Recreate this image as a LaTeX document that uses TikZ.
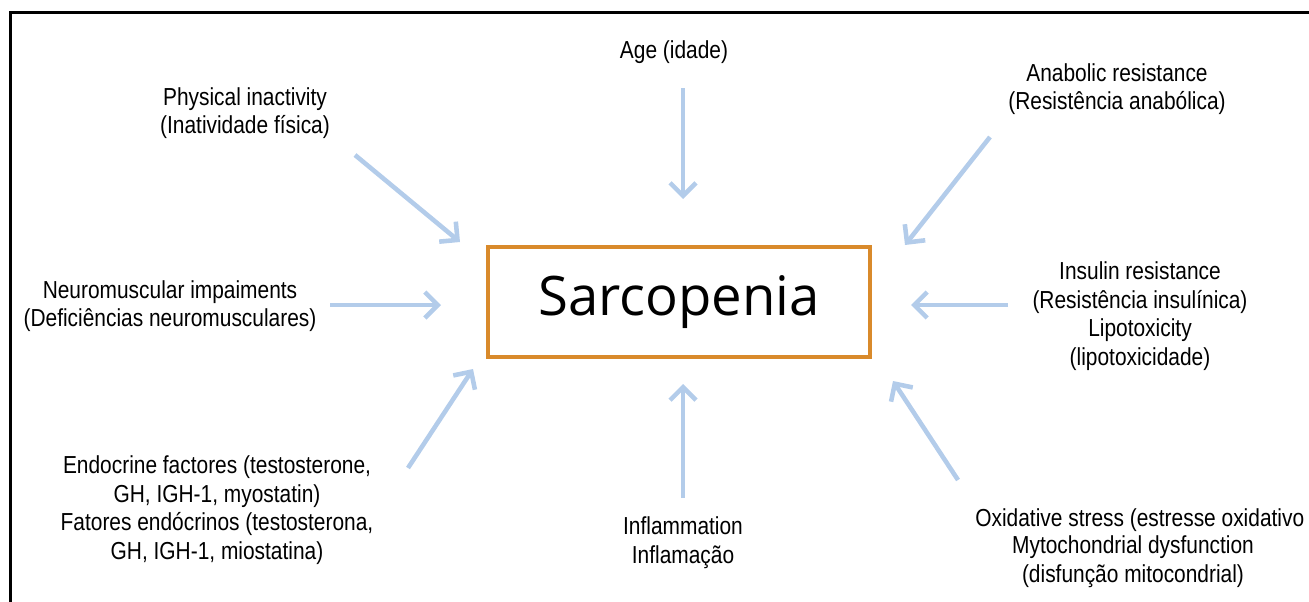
\documentclass[tikz,border=0pt]{standalone}
\usepackage{fontspec}
\usetikzlibrary{arrows.meta,positioning}
\newfontfamily\labfont[FakeStretch=0.85]{Liberation Sans}
\newfontfamily\boxfont{Open Sans}
\definecolor{boxorange}{HTML}{D98A2B}
\definecolor{arrowblue}{HTML}{B3CCEA}
\tikzset{
    factor/.style={align=center, inner sep=0pt, font=\labfont\fontsize{14}{16.3}\selectfont},
    cause/.style={draw=arrowblue, line width=2.6pt, -{Straight Barb[length=2.6mm,width=5.2mm]}},
    mainbox/.style={draw=boxorange, line width=1.8pt, minimum width=7.64cm, minimum height=2.2cm, font=\boxfont\fontsize{31}{36}\selectfont}
}

\begin{document}
\begin{tikzpicture}[x=0.02cm, y=-0.02cm]
    \useasboundingbox (0, 0) rectangle (1309, 602);
    \draw[line width=1.4pt] (10.5, 602) -- (10.5, 12.5) -- (1309, 12.5);

    \node[mainbox] (sarc) at (679, 302) {Sarcopenia};

    % labels
    \node[factor] (age) at (674, 52) {Age (idade)};
    \node[factor] (phys) at (245, 113) {Physical inactivity\\(Inatividade física)};
    \node[factor] (anab) at (1117, 89) {Anabolic resistance\\(Resistência anabólica)};
    \node[factor] (neuro) at (170, 306) {Neuromuscular impaiments\\(Deficiências neuromusculares)};
    \node[factor] (insul) at (1140, 316) {Insulin resistance\\(Resistência insulínica)\\Lipotoxicity\\(lipotoxicidade)};
    \node[factor] (endo) at (217, 510) {Endocrine factores (testosterone,\\GH, IGH-1, myostatin)\\Fatores endócrinos (testosterona,\\GH, IGH-1, miostatina)};
    \node[factor] (infl) at (683, 543) {Inflammation\\Inflamação};
    \node[factor, anchor=west] (oxid) at (975, 520) {Oxidative stress (estresse oxidativo};
    \node[factor] (mito) at (1133, 562) {Mytochondrial dysfunction\\(disfunção mitocondrial)};

    % arrow ends
    \coordinate (phys-s) at (355, 155);  \coordinate (phys-e) at (460, 242);
    \coordinate (age-s) at (683, 88);    \coordinate (age-e) at (683, 199);
    \coordinate (anab-s) at (990, 137);  \coordinate (anab-e) at (905, 245);
    \coordinate (neuro-s) at (330, 305); \coordinate (neuro-e) at (441, 305);
    \coordinate (insul-s) at (1008, 305); \coordinate (insul-e) at (911, 305);
    \coordinate (endo-s) at (408, 468);  \coordinate (endo-e) at (473, 369);
    \coordinate (infl-s) at (683, 498);  \coordinate (infl-e) at (683, 384);
    \coordinate (oxid-s) at (958, 480);  \coordinate (oxid-e) at (893, 381);

    \foreach \f in {phys, age, anab, neuro, insul, endo, infl, oxid}
        \draw[cause] (\f-s) -- (\f-e);
\end{tikzpicture}
\end{document}
